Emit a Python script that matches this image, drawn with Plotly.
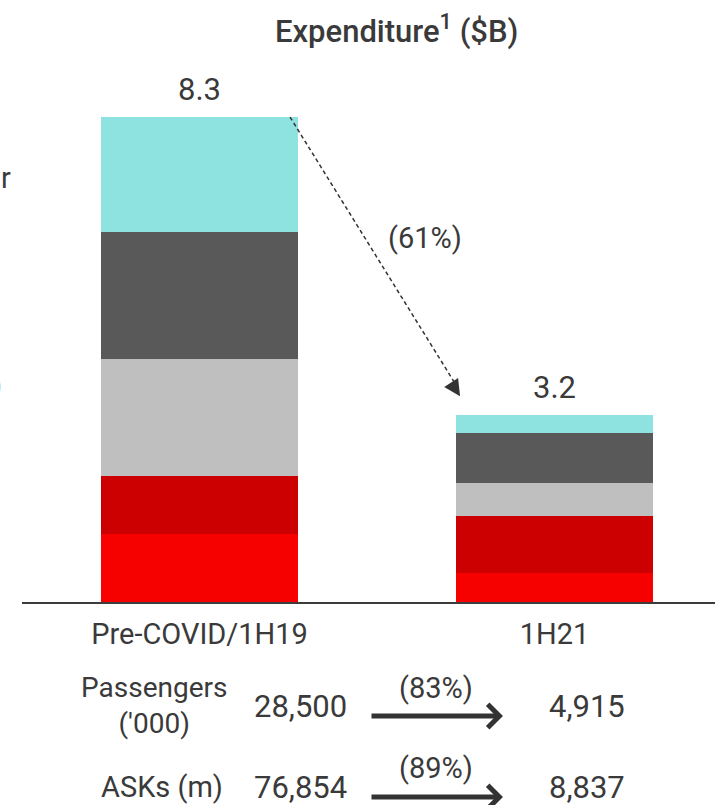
import plotly.graph_objects as go

# ---------------- data ----------------
categories = ["Pre-COVID/1H19", "1H21"]
seg_bright_red = [1.17, 0.50]
seg_dark_red = [0.99, 0.97]
seg_light_gray = [2.00, 0.56]
seg_dark_gray = [2.17, 0.87]
seg_cyan = [1.97, 0.30]
totals = [8.3, 3.2]
total_labels = ["8.3", "3.2"]
change_label = "(61%)"

metrics = ["Passengers<br>('000)", "ASKs (m)"]
pre_values = ["28,500", "76,854"]
post_values = ["4,915", "8,837"]
metric_changes = ["(83%)", "(89%)"]

# ---------------- styling ----------------
W, H = 715, 805
ML, MR, MT, MB = 22, 0, 0, 203
PH = H - MT - MB
PW = W - ML - MR
PX_PER_UNIT = 58.43
YMAX = PH / PX_PER_UNIT
UNIT_PX = 355.0
X0 = -0.5
X1 = X0 + PW / UNIT_PX

FONT = "Roboto, Arial, sans-serif"
TXT = "#3a3a3a"

def px(x):
    return (x - ML) / PW

def py(y):
    return (MT + PH - y) / PH

def label(x, y, text, size=29, xanchor="center", weight=None):
    f = dict(family=FONT, size=size, color=TXT)
    if weight:
        f["weight"] = weight
    fig.add_annotation(x=px(x), y=py(y), xref="paper", yref="paper",
                       text=text, showarrow=False, xanchor=xanchor,
                       yanchor="middle", font=f)

xs = [0, 1]
fig = go.Figure()
series = [
    ("Segment 1", seg_bright_red, "#F70000"),
    ("Segment 2", seg_dark_red, "#CC0000"),
    ("Segment 3", seg_light_gray, "#BFBFBF"),
    ("Segment 4", seg_dark_gray, "#595959"),
    ("Segment 5", seg_cyan, "#8EE2E0"),
]
for name, vals, col in series:
    fig.add_trace(go.Bar(x=xs, y=vals, name=name, width=0.555,
                         marker=dict(color=col, line=dict(width=0)),
                         hoverinfo="skip"))

# total labels above the bars
for xv, tv, tl in zip(xs, totals, total_labels):
    fig.add_annotation(x=xv, y=tv, xref="x", yref="y", text=tl,
                       showarrow=False, xanchor="center", yanchor="middle",
                       yshift=28, font=dict(family=FONT, size=31, color=TXT))

# dashed arrow between bar tops
x_start, y_start = 0.255, totals[0]
x_end, y_end = 0.722, totals[1] + 0.52
fig.add_shape(type="line", xref="x", yref="y", x0=x_start, y0=y_start,
              x1=x_end, y1=y_end,
              line=dict(color="#333333", width=1.5, dash="4px,3px"))
fig.add_annotation(x=x_end + 0.012, y=y_end - 0.2, xref="x", yref="y",
                   ax=-9, ay=-14, showarrow=True, arrowhead=2, arrowsize=2.2,
                   arrowwidth=1.5, arrowcolor="#333333", text="")
label(425, 238, change_label, size=29)

# title
label(396, 30, "Expenditure<sup>1</sup> ($B)", size=31, weight=500)

# cropped labels at left edge
label(13, 178, "r", size=29, xanchor="right")
label(4, 385, ")", size=29, xanchor="right")

# table below the chart
row_y = [706, 787]
change_y = [688, 768]
arrow_y = [716, 797]
label(154, 705, metrics[0], size=28)
label(162, 787, metrics[1], size=29)
for i in range(2):
    label(300, row_y[i], pre_values[i], size=31)
    label(436, change_y[i], metric_changes[i], size=29)
    label(587, row_y[i], post_values[i], size=31)
    fig.add_annotation(x=px(503), y=py(arrow_y[i]), xref="paper", yref="paper",
                       ax=-133, ay=0, showarrow=True, arrowhead=4,
                       arrowsize=0.9, arrowwidth=5, arrowcolor="#333333",
                       text="")

fig.update_layout(
    width=W, height=H,
    margin=dict(l=ML, r=MR, t=MT, b=MB),
    paper_bgcolor="white", plot_bgcolor="white",
    barmode="stack", showlegend=False,
    xaxis=dict(range=[X0, X1], tickvals=xs, ticktext=categories,
               showline=True, linecolor="#3c3c3c", linewidth=2,
               showgrid=False, zeroline=False, ticks="",
               ticklabelstandoff=5,
               tickfont=dict(family=FONT, size=29, color=TXT),
               fixedrange=True),
    yaxis=dict(range=[0, YMAX], visible=False, fixedrange=True),
)

fig.write_html("out.html")
